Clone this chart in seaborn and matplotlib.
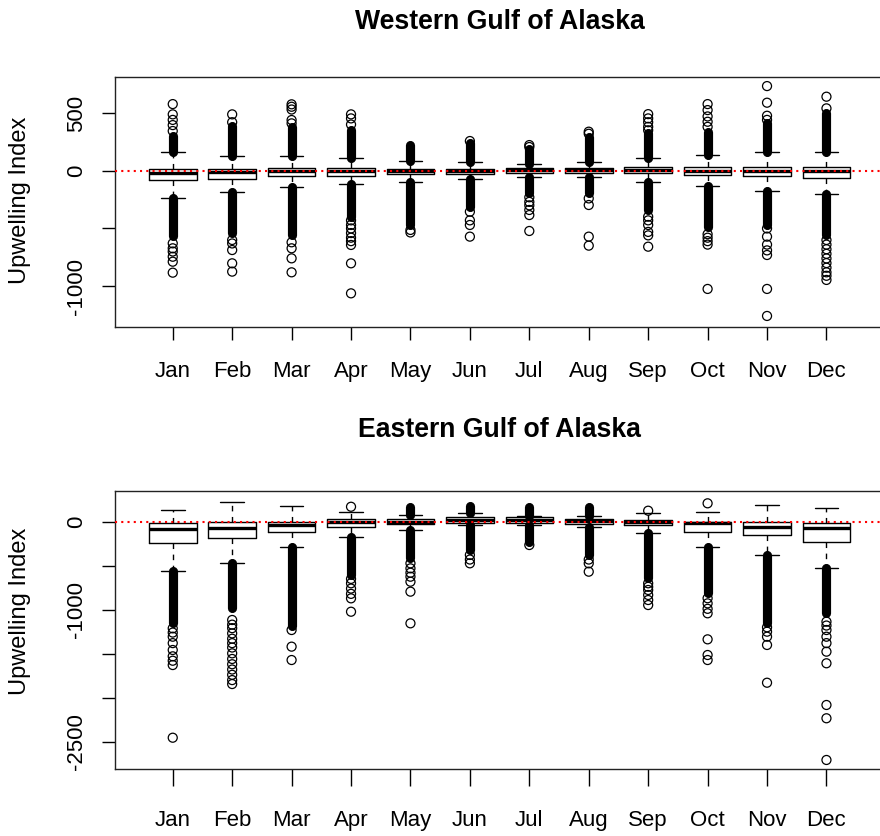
import numpy as np
import pandas as pd
import matplotlib.pyplot as plt
import seaborn as sns

months = ['Jan', 'Feb', 'Mar', 'Apr', 'May', 'Jun',
          'Jul', 'Aug', 'Sep', 'Oct', 'Nov', 'Dec']

# Western Gulf of Alaska - box stats
west_whislo = [-234, -187, -144, -118, -95, -72, -57, -57, -95, -135, -173, -202]
west_q1 = [-83, -74, -46, -49, -31, -31, -23, -17, -23, -37, -46, -61]
west_med = [-20, -8, 0, 0, 0, 0, 5, 10, 10, -5, 0, -5]
west_q3 = [12, 12, 26, 26, 12, 12, 26, 26, 35, 35, 35, 35]
west_whishi = [164, 125, 125, 110, 87, 73, 58, 73, 110, 136, 164, 164]
# end of the solid run of outliers above / below the whiskers
west_dense_hi = [300, 390, 380, 352, 222, 237, 190, 294, 324, 338, 410, 500]
west_dense_lo = [-563, -542, -557, -400, -470, -312, -196, -196, -340, -485, -470, -557]
west_fliers = [
    [344, 395, 440, 488, 577, -629, -672, -700, -745, -788, -883],
    [420, 488, -600, -630, -687, -802, -874],
    [410, 439, 530, 554, 575, -620, -672, -759, -880],
    [400, 453, 488, -430, -470, -500, -540, -580, -610, -643, -802, -1062],
    [-513, -535],
    [257, -355, -430, -470, -571],
    [205, 222, -230, -270, -300, -340, -384, -522],
    [320, 338, -240, -297, -571, -649],
    [350, 380, 420, 453, 490, -398, -430, -470, -530, -560, -658],
    [380, 424, 470, 525, 577, -550, -580, -610, -640, -1024],
    [440, 476, 589, 733, -500, -571, -640, -690, -730, -1024, -1258],
    [540, 641, -600, -640, -680, -720, -760, -800, -840, -880, -910, -946],
]

# Eastern Gulf of Alaska
east_whislo = [-560, -466, -284, -170, -94, -38, -38, -57, -132, -284, -378, -530]
east_q1 = [-246, -189, -114, -57, -26, -11, -11, -26, -38, -114, -151, -227]
east_med = [-87, -68, -38, 0, 0, 25, 20, 5, -5, -11, -57, -68]
east_q3 = [-11, 0, 0, 27, 27, 57, 57, 27, 19, 0, 0, -11]
east_whishi = [133, 227, 178, 114, 76, 95, 65, 65, 95, 114, 190, 152]
east_dense_hi = [np.nan, np.nan, np.nan, np.nan, 165, 178, 170, 170,
                 np.nan, np.nan, np.nan, np.nan]
east_dense_lo = [-1155, -985, -1180, -606, -416, -322, -227, -378, -640, -814, -1155, -1041]
east_fliers = [
    [-1212, -1260, -1307, -1380, -1458, -1530, -1580, -1629, -2455],
    [-1117, -1170, -1210, -1269, -1330, -1380, -1430, -1496, -1560,
     -1620, -1680, -1740, -1800, -1845],
    [-1231, -1420, -1572],
    [170, -650, -700, -760, -820, -871, -1023],
    [-473, -530, -580, -625, -682, -795, -1155],
    [-378, -430, -473],
    [-265],
    [-430, -473, -568],
    [125, -700, -740, -776, -833, -890, -947],
    [209, -870, -928, -990, -1041, -1337, -1515, -1572],
    [-1200, -1250, -1307, -1401, -1830],
    [-1136, -1180, -1231, -1307, -1380, -1477, -1609, -2083, -2234, -2708],
]

west_yticks = [-1000, -500, 0, 500]
west_ylabels = ['-1000', '', '0', '500']
east_yticks = [-2500, -2000, -1500, -1000, -500, 0]
east_ylabels = ['-2500', '', '', '-1000', '', '0']

sns.set_style('ticks')
plt.rcParams['font.family'] = ['Liberation Sans', 'DejaVu Sans']
plt.rcParams['text.color'] = 'black'

W, H = 880, 836
fig = plt.figure(figsize=(W / 100, H / 100), dpi=100)


def panel(rect, whislo, q1, med, q3, whishi, dense_lo, dense_hi, fliers,
          ylim, yticks, ylabels, xtick_len, xpad):
    ax = fig.add_axes(rect)
    pos = np.arange(1, len(months) + 1)
    stats = [dict(whislo=a, q1=b, med=c, q3=d, whishi=e, fliers=[])
             for a, b, c, d, e in zip(whislo, q1, med, q3, whishi)]
    ax.bxp(stats, positions=pos, widths=0.8, capwidths=0.4,
           showfliers=False, patch_artist=False,
           boxprops=dict(color='black', lw=1.0),
           medianprops=dict(color='black', lw=2.4, solid_capstyle='butt'),
           whiskerprops=dict(color='black', lw=1.0, linestyle=(0, (4, 4))),
           capprops=dict(color='black', lw=1.0))

    # solid runs of overlapping outlier circles
    hi = np.array(dense_hi, dtype=float)
    lo = np.array(dense_lo, dtype=float)
    ok = ~np.isnan(hi)
    ax.vlines(pos[ok], np.array(whishi)[ok], hi[ok], color='black',
              lw=6.6, capstyle='round', zorder=3)
    ax.vlines(pos, whislo, lo, color='black', lw=6.6,
              capstyle='round', zorder=3)

    df = pd.DataFrame([(p, v) for p, fl in zip(pos, fliers) for v in fl],
                      columns=['pos', 'value'])
    sns.scatterplot(data=df, x='pos', y='value', ax=ax, marker='o', s=42,
                    facecolor='none', edgecolor='black', linewidth=0.9,
                    legend=False, zorder=3)

    ax.axhline(0, color='red', lw=1.5, linestyle=(0, (1, 2)), zorder=5)

    ax.set_xlim(0.02, 12.98)
    ax.set_ylim(*ylim)
    ax.set_xticks(pos)
    ax.set_xticklabels(months)
    ax.set_yticks(yticks)
    ax.set_yticklabels(ylabels)
    ax.set_xlabel('')
    ax.set_ylabel('')
    ax.tick_params(axis='x', direction='out', length=xtick_len, width=1.0,
                   pad=xpad, labelsize=16, colors='black')
    ax.tick_params(axis='y', direction='out', length=9.5, width=1.0,
                   pad=10.5, labelsize=16, labelrotation=90, colors='black')
    for t in ax.get_yticklabels():
        t.set_va('center')
    for s in ax.spines.values():
        s.set_visible(True)
        s.set_linewidth(1.0)
        s.set_color('#222222')
    ax.spines['right'].set_visible(False)
    return ax


left = 114.5 / W
width = 770.2 / W
ax1 = panel([left, 1 - 326.7 / H, width, 249.4 / H],
            west_whislo, west_q1, west_med, west_q3, west_whishi,
            west_dense_lo, west_dense_hi, west_fliers,
            (-1351, 809), west_yticks, west_ylabels, 9.5, 14.9)
ax2 = panel([left, 1 - 769.3 / H, width, 278.3 / H],
            east_whislo, east_q1, east_med, east_q3, east_whishi,
            east_dense_lo, east_dense_hi, east_fliers,
            (-2814, 349), east_yticks, east_ylabels, 12, 17.3)

cx = (114.5 + 884.7) / 2 / W
fig.text(cx, 1 - 29.3 / H, 'Western Gulf of Alaska', ha='center',
         va='baseline', fontsize=19.2, fontweight='bold', color='black')
fig.text(cx, 1 - 436.7 / H, 'Eastern Gulf of Alaska', ha='center',
         va='baseline', fontsize=19.2, fontweight='bold', color='black')
fig.text(20 / W, 1 - 200 / H, 'Upwelling Index', rotation=90,
         ha='center', va='center', fontsize=17, color='black')
fig.text(20 / W, 1 - 611 / H, 'Upwelling Index', rotation=90,
         ha='center', va='center', fontsize=17, color='black')

fig.savefig('out.png', dpi=100, facecolor='white')
